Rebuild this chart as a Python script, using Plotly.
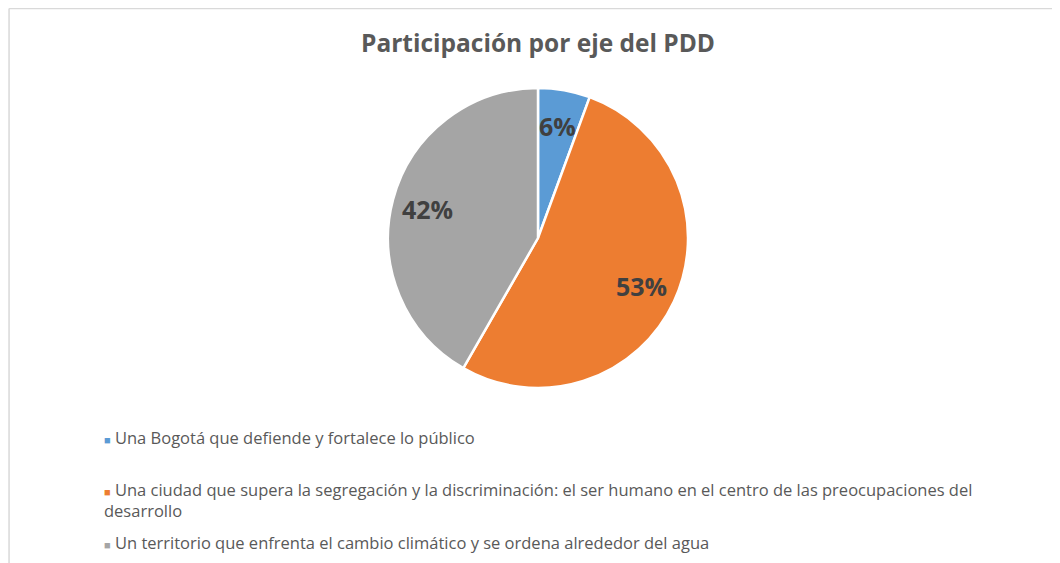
import math
import plotly.graph_objects as go

# datos del gráfico
ejes = [
    "Una Bogotá que defiende y fortalece lo público",
    "Una ciudad que supera la segregación y la discriminación: el ser humano en el centro de las preocupaciones del<br>desarrollo",
    "Un territorio que enfrenta el cambio climático y se ordena alrededor del agua",
]
participacion = [5.6, 52.7, 41.7]
colores = ["#5B9BD5", "#ED7D31", "#A5A5A5"]

# la página tiene 8px de margen en el body: se descuentan aquí
OFF = 8
W, H = 1060 - OFF, 563 - OFF


def px(x):
    return (x - OFF) / W


def py(y):
    return 1 - (y - OFF) / H


CX, CY, R = 538, 238, 150

fig = go.Figure()
fig.add_trace(
    go.Pie(
        labels=ejes,
        values=participacion,
        sort=False,
        direction="clockwise",
        rotation=0,
        marker=dict(colors=colores, line=dict(color="white", width=2.5)),
        textinfo="none",
        domain=dict(x=[px(CX - R), px(CX + R)], y=[py(CY + R), py(CY - R)]),
        showlegend=False,
        hoverinfo="label+percent",
    )
)

# etiquetas de porcentaje, colocadas hacia el borde como en Excel
total = sum(participacion)
acum = 0
for v in participacion:
    medio = (acum + v / 2) / total * 2 * math.pi
    acum += v
    fig.add_annotation(
        x=px(CX + 0.76 * R * math.sin(medio)),
        y=py(CY - 0.76 * R * math.cos(medio)),
        xref="paper",
        yref="paper",
        xanchor="center",
        yanchor="middle",
        showarrow=False,
        text=f"<b>{round(v / total * 100)}%</b>",
        font=dict(family="Open Sans", size=25, color="#404040"),
    )

# leyenda manual (texto largo con salto de línea)
leyenda_y = [437, 500, 542]
for texto, color, yy in zip(ejes, colores, leyenda_y):
    fig.add_annotation(
        x=px(102),
        y=py(yy),
        xref="paper",
        yref="paper",
        xanchor="left",
        yanchor="middle",
        align="left",
        showarrow=False,
        text=f"<span style='color:{color}; font-size:11px'>■</span> {texto}",
        font=dict(family="Open Sans", size=16.5, color="#595959"),
    )

# borde del área del gráfico
fig.add_shape(type="line", xref="paper", yref="paper",
              x0=0.001, x1=1, y0=0.999, y1=0.999,
              line=dict(color="#D9D9D9", width=1.5))
fig.add_shape(type="line", xref="paper", yref="paper",
              x0=0.001, x1=0.001, y0=0, y1=0.999,
              line=dict(color="#D9D9D9", width=1.5))

fig.update_layout(
    width=W,
    height=H,
    margin=dict(l=0, r=0, t=0, b=0),
    paper_bgcolor="white",
    plot_bgcolor="white",
    title=dict(
        text="<b>Participación por eje del PDD</b>",
        x=px(538),
        xanchor="center",
        y=py(43),
        yanchor="middle",
        font=dict(family="Open Sans", size=24.5, color="#595959"),
    ),
)

fig.write_html("out.html")
